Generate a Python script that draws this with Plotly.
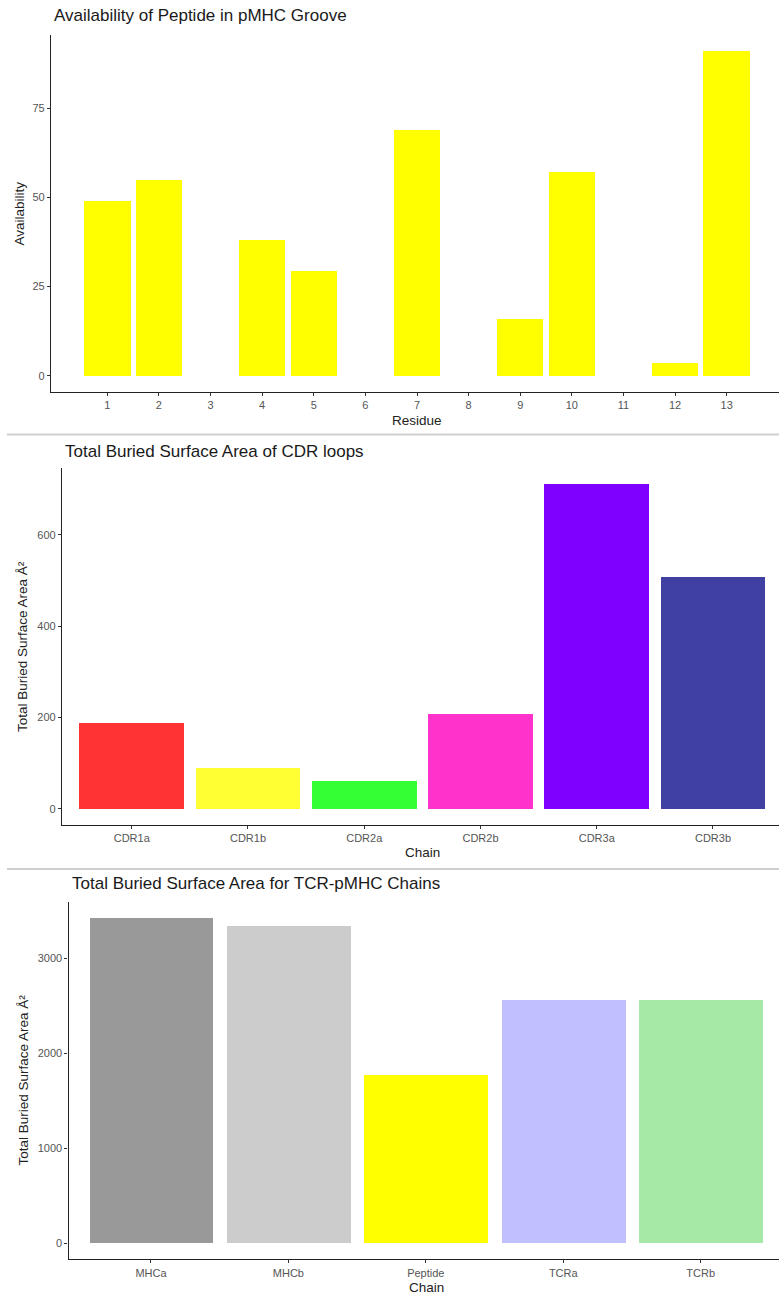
import plotly.graph_objects as go

# ---- data ----
residues = list(range(1, 14))
availability = [49, 55, 0, 38, 29.3, 0, 69, 0, 16, 57, 0, 3.5, 91]

cdr_loops = ["CDR1a", "CDR1b", "CDR2a", "CDR2b", "CDR3a", "CDR3b"]
cdr_bsa = [188, 89, 60, 207, 711, 508]
cdr_colors = ["#FF3333", "#FFFF33", "#33FF33", "#FF33CC", "#7F00FF", "#4040A3"]

chains = ["MHCa", "MHCb", "Peptide", "TCRa", "TCRb"]
chain_bsa = [3426, 3342, 1774, 2568, 2568]
chain_colors = ["#999999", "#CCCCCC", "#FFFF00", "#C0C0FF", "#A6E8A6"]

W, H = 779, 1294
FONT = "Liberation Sans, Arial, sans-serif"


def px_x(p):
    return p / W


def px_y(p):
    return 1 - p / H


fig = go.Figure()

fig.add_trace(go.Bar(x=residues, y=availability, width=0.9,
                     marker=dict(color="#FFFF00", line=dict(width=0)),
                     xaxis="x", yaxis="y", showlegend=False))
fig.add_trace(go.Bar(x=cdr_loops, y=cdr_bsa, width=0.9,
                     marker=dict(color=cdr_colors, line=dict(width=0)),
                     xaxis="x2", yaxis="y2", showlegend=False))
fig.add_trace(go.Bar(x=chains, y=chain_bsa, width=0.9,
                     marker=dict(color=chain_colors, line=dict(width=0)),
                     xaxis="x3", yaxis="y3", showlegend=False))

axis_common = dict(showline=True, linecolor="#222222", linewidth=1.2,
                   ticks="outside", ticklen=3, tickwidth=1, tickcolor="#333333",
                   showgrid=False, zeroline=False,
                   tickfont=dict(family=FONT, size=11, color="#555555"))

# panel pixel boxes: (left, top, bottom)
p1 = (51, 35, 392)
p2 = (62, 468, 825)
p3 = (68.5, 901.7, 1259.3)

fig.update_layout(
    width=W, height=H,
    margin=dict(l=0, r=0, t=0, b=0),
    paper_bgcolor="white", plot_bgcolor="white",
    bargap=0,
    xaxis=dict(domain=[px_x(p1[0]), 1], range=[-0.091, 14.013],
               tickmode="array", tickvals=residues,
               ticktext=[str(r) for r in residues], anchor="y", **axis_common),
    yaxis=dict(domain=[px_y(p1[2]), px_y(p1[1])], range=[-4.55, 95.55],
               tickmode="array", tickvals=[0, 25, 50, 75], anchor="x",
               **axis_common),
    xaxis2=dict(domain=[px_x(p2[0]), 1], range=[-0.6, 5.568],
                type="category", anchor="y2", **axis_common),
    yaxis2=dict(domain=[px_y(p2[2]), px_y(p2[1])], range=[-35.5, 746.5],
                tickmode="array", tickvals=[0, 200, 400, 600], anchor="x2",
                **axis_common),
    xaxis3=dict(domain=[px_x(p3[0]), 1], range=[-0.6, 4.57],
                type="category", anchor="y3", **axis_common),
    yaxis3=dict(domain=[px_y(p3[2]), px_y(p3[1])], range=[-171, 3597],
                tickmode="array", tickvals=[0, 1000, 2000, 3000], anchor="x3",
                **axis_common),
)

texts = [
    # (text, x px, y px, size, anchor, angle, color)
    ("Availability of Peptide in pMHC Groove", 52, 16, 17, "left", 0, "#1a1a1a"),
    ("Residue", 417, 420, 13.5, "center", 0, "#222222"),
    ("Availability", 19, 213.5, 13.5, "center", -90, "#222222"),
    ("Total Buried Surface Area of CDR loops", 63, 451, 17, "left", 0, "#1a1a1a"),
    ("Chain", 422, 853, 13.5, "center", 0, "#222222"),
    ("Total Buried Surface Area Å²", 22, 647, 13.5, "center", -90, "#222222"),
    ("Total Buried Surface Area for TCR-pMHC Chains", 70, 883, 17, "left", 0, "#1a1a1a"),
    ("Chain", 426, 1287, 13.5, "center", 0, "#222222"),
    ("Total Buried Surface Area Å²", 23, 1080.5, 13.5, "center", -90, "#222222"),
]
for t, x, y, s, anc, ang, col in texts:
    fig.add_annotation(text=t, x=px_x(x), y=px_y(y), xref="paper", yref="paper",
                       xanchor=anc, yanchor="middle", textangle=ang,
                       showarrow=False, font=dict(family=FONT, size=s, color=col))

# thin separators between the three plots
for yy in (434.5, 869):
    fig.add_shape(type="line", xref="paper", yref="paper",
                  x0=px_x(7), x1=1, y0=px_y(yy), y1=px_y(yy),
                  line=dict(color="#cfcfcf", width=2))

fig.write_html("out.html", config={"displayModeBar": False})
